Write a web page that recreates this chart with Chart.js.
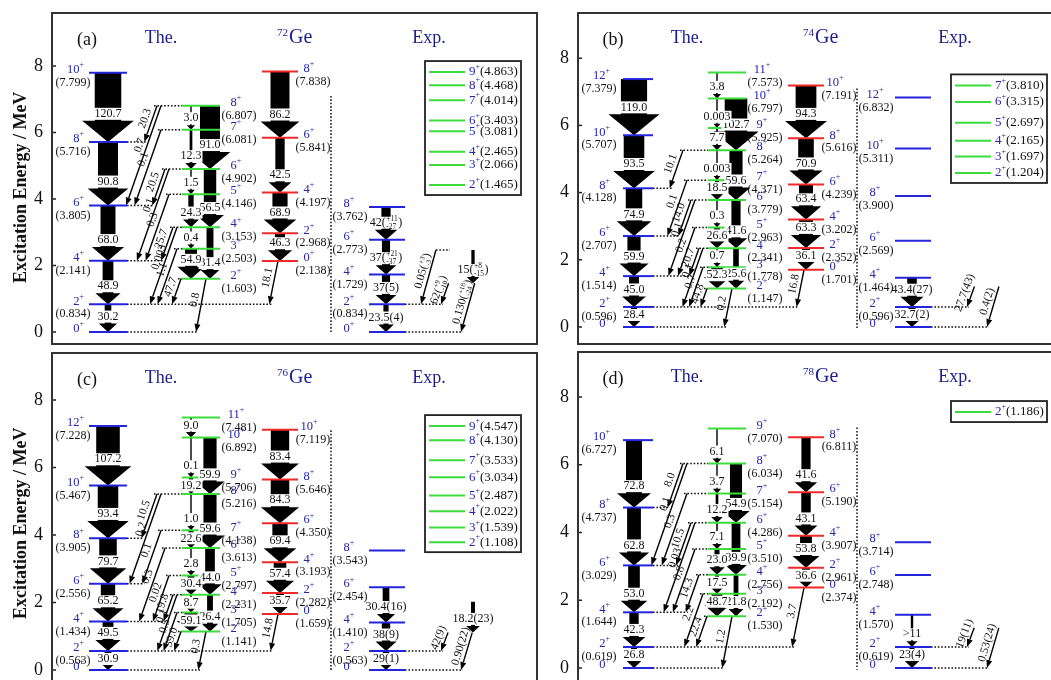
<!DOCTYPE html>
<html>
<head>
<meta charset="utf-8">
<script src="https://cdn.jsdelivr.net/npm/chart.js@4.4.1/dist/chart.umd.min.js"></script>
<style>
  body { margin: 0; background: #fff; }
  #wrap { position: relative; width: 1051px; height: 680px; overflow: hidden; }
  canvas { position: absolute; }
</style>
</head>
<body>
<div id="wrap">
  <canvas id="pa" width="548" height="348" style="left:0;top:0"></canvas>
  <canvas id="pb" width="503" height="348" style="left:548px;top:0"></canvas>
  <canvas id="pc" width="548" height="332" style="left:0;top:348px"></canvas>
  <canvas id="pd" width="503" height="332" style="left:548px;top:348px"></canvas>
</div>
<script>
const yTicks = [0, 2, 4, 6, 8];
const panelTags = ['(a)', '(b)', '(c)', '(d)'];
const massNumbers = ['72', '74', '76', '78'];
const axisTitle = 'Excitation Energy / MeV';

// 72Ge  (theory: ground band, gamma band, second 0+ band; experiment)
const ge72GsbSpin = [0, 2, 4, 6, 8, 10];
const ge72GsbE = [0, 0.834, 2.141, 3.805, 5.716, 7.799];
const ge72GsbBE2 = ['30.2', '48.9', '68.0', '90.8', '120.7'];
const ge72GamSpin = [2, 3, 4, 5, 6, 7, 8];
const ge72GamE = [1.603, 2.503, 3.153, 4.146, 4.902, 6.081, 6.807];
const ge72GamD1 = ['54.9', '0.4', '24.3', '1.5', '12.3', '3.0'];
const ge72GamD2 = ['31.4', '56.5', '91.0'];
const ge72BetSpin = [0, 2, 4, 6, 8];
const ge72BetE = [2.138, 2.968, 4.197, 5.841, 7.838];
const ge72BetBE2 = ['46.3', '68.9', '42.5', '86.2'];
const ge72BetOut = '18.1';
const ge72Links = [[8, 8, '20.3'], [8, 6, '0.7'], [7, 6, '0.1'], [6, 6, '20.5'], [6, 4, '0.1'], [5, 4, '0.3'],
  [4, 4, '25.7'], [4, 2, '0.003'], [3, 2, '1.1'], [2, 2, '47.7'], [2, 0, '0.8']];
const ge72ExpSpin = [0, 2, 4, 6, 8];
const ge72ExpE = [0, 0.834, 1.729, 2.773, 3.762];
const ge72ExpBE2 = ['23.5(4)', '37(5)', '37(+21|-37)', '42(+11|-27)'];
const ge72ExpGamSpin = [2, 3, 4, 5, 6, 7, 8, 9];
const ge72ExpGamE = [1.465, 2.066, 2.465, 3.081, 3.403, 4.014, 4.468, 4.863];
const ge72ExpGamBE2 = [[4, 2, '15(+8|-15)']];
const ge72ExpLinks = [[4, 2, '0.05(+3|-3)'], [2, 2, '62(+9|-10)'], [2, 0, '0.130(+18|-24)']];

// 74Ge
const ge74GsbSpin = [0, 2, 4, 6, 8, 10, 12];
const ge74GsbE = [0, 0.596, 1.514, 2.707, 4.128, 5.707, 7.379];
const ge74GsbBE2 = ['28.4', '45.0', '59.9', '74.9', '93.5', '119.0'];
const ge74GamSpin = [2, 3, 4, 5, 6, 7, 8, 9, 10, 11];
const ge74GamE = [1.147, 1.778, 2.341, 2.963, 3.779, 4.371, 5.264, 5.925, 6.797, 7.573];
const ge74GamD1 = ['52.3', '0.7', '26.6', '0.3', '18.5', '0.003', '7.7', '0.003', '3.8'];
const ge74GamD2 = ['25.6', '41.6', '59.6', '102.7'];
const ge74BetSpin = [0, 2, 4, 6, 8, 10];
const ge74BetE = [1.701, 2.352, 3.202, 4.239, 5.616, 7.191];
const ge74BetBE2 = ['36.1', '63.3', '63.4', '70.9', '94.3'];
const ge74BetOut = '16.8';
const ge74Links = [[8, 8, '10.1'], [7, 6, '0.1'], [6, 6, '14.0'], [6, 4, '0.1'], [5, 4, '0.2'], [4, 4, '20.7'],
  [4, 2, '0.1'], [3, 2, '0.7'], [2, 2, '44.8'], [2, 0, '0.2']];
const ge74ExpSpin = [0, 2, 4, 6, 8, 10, 12];
const ge74ExpE = [0, 0.596, 1.464, 2.569, 3.900, 5.311, 6.832];
const ge74ExpBE2 = ['32.7(2)', '43.4(27)', null, null, null, null];
const ge74ExpGamSpin = [2, 3, 4, 5, 6, 7];
const ge74ExpGamE = [1.204, 1.697, 2.165, 2.697, 3.315, 3.810];
const ge74ExpGamBE2 = [];
const ge74ExpLinks = [[2, 2, '27.7(43)'], [2, 0, '0.4(2)']];

// 76Ge
const ge76GsbSpin = [0, 2, 4, 6, 8, 10, 12];
const ge76GsbE = [0, 0.563, 1.434, 2.556, 3.905, 5.467, 7.228];
const ge76GsbBE2 = ['30.9', '49.5', '65.2', '79.7', '93.4', '107.2'];
const ge76GamSpin = [2, 3, 4, 5, 6, 7, 8, 9, 10, 11];
const ge76GamE = [1.141, 1.705, 2.231, 2.797, 3.613, 4.138, 5.216, 5.706, 6.892, 7.481];
const ge76GamD1 = ['59.1', '8.7', '30.4', '2.8', '22.6', '1.0', '19.2', '0.1', '9.0'];
const ge76GamD2 = ['26.4', '44.0', '59.6', '59.9'];
const ge76BetSpin = [0, 2, 4, 6, 8, 10];
const ge76BetE = [1.659, 2.282, 3.193, 4.350, 5.646, 7.119];
const ge76BetBE2 = ['35.7', '57.4', '69.4', '84.3', '83.4'];
const ge76BetOut = '14.8';
const ge76Links = [[8, 8, '10.5'], [8, 6, '0.2'], [7, 6, '0.1'], [6, 4, '0.3'], [5, 4, '0.02'], [4, 4, '19.8'],
  [4, 2, '0.1'], [3, 2, '0.5'], [2, 2, '39.0'], [2, 0, '0.3']];
const ge76ExpSpin = [0, 2, 4, 6, 8];
const ge76ExpE = [0, 0.563, 1.410, 2.454, 3.543];
const ge76ExpBE2 = ['29(1)', '38(9)', '30.4(16)', null];
const ge76ExpGamSpin = [2, 3, 4, 5, 6, 7, 8, 9];
const ge76ExpGamE = [1.108, 1.539, 2.022, 2.487, 3.034, 3.533, 4.130, 4.547];
const ge76ExpGamBE2 = [[4, 2, '18.2(23)']];
const ge76ExpLinks = [[2, 2, '42(9)'], [2, 0, '0.90(22)']];

// 78Ge
const ge78GsbSpin = [0, 2, 4, 6, 8, 10];
const ge78GsbE = [0, 0.619, 1.644, 3.029, 4.737, 6.727];
const ge78GsbBE2 = ['26.8', '42.3', '53.0', '62.8', '72.8'];
const ge78GamSpin = [2, 3, 4, 5, 6, 7, 8, 9];
const ge78GamE = [1.530, 2.192, 2.756, 3.510, 4.286, 5.154, 6.034, 7.070];
const ge78GamD1 = ['48.7', '17.5', '23.0', '7.1', '12.2', '3.7', '6.1'];
const ge78GamD2 = ['21.8', '39.9', '54.9'];
const ge78BetSpin = [0, 2, 4, 6, 8];
const ge78BetE = [2.374, 2.961, 3.907, 5.190, 6.811];
const ge78BetBE2 = ['36.6', '53.8', '43.1', '41.6'];
const ge78BetOut = '3.7';
const ge78Links = [[8, 8, '8.0'], [8, 6, '0.1'], [7, 6, '0.3'], [6, 6, '10.5'], [6, 4, '0.03'], [5, 4, '0.8'],
  [4, 4, '14.3'], [3, 2, '2.2'], [2, 2, '22.4'], [2, 0, '1.2']];
const ge78ExpSpin = [0, 2, 4, 6, 8];
const ge78ExpE = [0, 0.619, 1.570, 2.748, 3.714];
const ge78ExpBE2 = ['23(4)', '>11', null, null];
const ge78ExpGamSpin = [2];
const ge78ExpGamE = [1.186];
const ge78ExpGamBE2 = [];
const ge78ExpLinks = [[2, 2, '19(11)'], [2, 0, '0.53(24)']];

// column layout, px from the left edge of each frame
const L = {
  gsbR: 76, gsbA: 57, gsbSpin: 33, gsbEn: 22,
  gamL: 131, gamR: 169, gamA1: 140, gamA2: 159, gamSpin: 185, gamEn: 188,
  betL: 211, betR: 247, betA: 229, betSpin: 258, betEn: 262,
  sep: 280, sepTop: 7.1,
  expL: 318, expR: 354, expA: 335, expSpin: 298, expEn: 299,
  tag: 36, the: 110, iso: 226, expT: 378, legL: 374, legW: 96
};
const C = { blue: '#2424dc', green: '#3cdc3c', red: '#ee2a2a', spin: '#2525a8', navy: '#1d1d8c', ink: '#111' };
const SERIF = '"Liberation Serif", "Times New Roman", serif';

const panelBoxes = [
  { id: 'pa', pad: { left: 51, top: 12, right: 10, bottom: 3 }, yMin: -0.391, yMax: 9.624, yTitle: true, legShift: 2.955, gsbL: 38 },
  { id: 'pb', pad: { left: 29, top: 12, right: 0, bottom: 3 }, yMin: -0.536, yMax: 9.375, yTitle: false, legShift: 3.38, gsbL: 46, openR: true },
  { id: 'pc', pad: { left: 51, top: 4, right: 10, bottom: 0 }, yMin: -0.296, yMax: 9.422, yTitle: true, legShift: 2.68, gsbL: 38, openB: true },
  { id: 'pd', pad: { left: 29, top: 3, right: 0, bottom: 0 }, yMin: -0.354, yMax: 9.358, yTitle: false, legShift: 6.37, gsbL: 46, openR: true, openB: true }
];

const panelData = [
  { gsbSpin: ge72GsbSpin, gsbE: ge72GsbE, gsbBE2: ge72GsbBE2, gamSpin: ge72GamSpin, gamE: ge72GamE, gamD1: ge72GamD1, gamD2: ge72GamD2,
    betSpin: ge72BetSpin, betE: ge72BetE, betBE2: ge72BetBE2, betOut: ge72BetOut, links: ge72Links,
    expSpin: ge72ExpSpin, expE: ge72ExpE, expBE2: ge72ExpBE2, expGamSpin: ge72ExpGamSpin, expGamE: ge72ExpGamE,
    expGamBE2: ge72ExpGamBE2, expLinks: ge72ExpLinks },
  { gsbSpin: ge74GsbSpin, gsbE: ge74GsbE, gsbBE2: ge74GsbBE2, gamSpin: ge74GamSpin, gamE: ge74GamE, gamD1: ge74GamD1, gamD2: ge74GamD2,
    betSpin: ge74BetSpin, betE: ge74BetE, betBE2: ge74BetBE2, betOut: ge74BetOut, links: ge74Links,
    expSpin: ge74ExpSpin, expE: ge74ExpE, expBE2: ge74ExpBE2, expGamSpin: ge74ExpGamSpin, expGamE: ge74ExpGamE,
    expGamBE2: ge74ExpGamBE2, expLinks: ge74ExpLinks },
  { gsbSpin: ge76GsbSpin, gsbE: ge76GsbE, gsbBE2: ge76GsbBE2, gamSpin: ge76GamSpin, gamE: ge76GamE, gamD1: ge76GamD1, gamD2: ge76GamD2,
    betSpin: ge76BetSpin, betE: ge76BetE, betBE2: ge76BetBE2, betOut: ge76BetOut, links: ge76Links,
    expSpin: ge76ExpSpin, expE: ge76ExpE, expBE2: ge76ExpBE2, expGamSpin: ge76ExpGamSpin, expGamE: ge76ExpGamE,
    expGamBE2: ge76ExpGamBE2, expLinks: ge76ExpLinks },
  { gsbSpin: ge78GsbSpin, gsbE: ge78GsbE, gsbBE2: ge78GsbBE2, gamSpin: ge78GamSpin, gamE: ge78GamE, gamD1: ge78GamD1, gamD2: ge78GamD2,
    betSpin: ge78BetSpin, betE: ge78BetE, betBE2: ge78BetBE2, betOut: ge78BetOut, links: ge78Links,
    expSpin: ge78ExpSpin, expE: ge78ExpE, expBE2: ge78ExpBE2, expGamSpin: ge78ExpGamSpin, expGamE: ge78ExpGamE,
    expGamBE2: ge78ExpGamBE2, expLinks: ge78ExpLinks }
];

const geo = {};

function num(label) {
  return parseFloat(String(label).replace(/^[^0-9.]*/, '')) || 0;
}

// work out arrows and dotted guides in data units (x: px from frame, y: MeV)
function buildScheme(d, ppm) {
  const dots = [], fat = [], thin = [];
  const gE = s => d.gsbE[d.gsbSpin.indexOf(s)];
  const yE = s => d.gamE[d.gamSpin.indexOf(s)];

  d.gsbBE2.forEach((b, i) => fat.push({ x: L.gsbA, from: d.gsbE[i + 1], to: d.gsbE[i], label: b }));
  d.gamD2.forEach((b, j) => fat.push({ x: L.gamA2, from: yE(4 + 2 * j), to: yE(2 + 2 * j), label: b }));
  d.gamD1.forEach((b, j) => fat.push({ x: L.gamA1, from: yE(3 + j), to: yE(2 + j), label: b }));
  d.betBE2.forEach((b, i) => fat.push({ x: L.betA, from: d.betE[i + 1], to: d.betE[i], label: b }));
  d.expBE2.forEach((b, i) => { if (b) fat.push({ x: L.expA, from: d.expE[i + 1], to: d.expE[i], label: b }); });

  // gamma band -> ground band
  const srcOrder = [];
  d.links.forEach(l => { if (!srcOrder.includes(l[0])) srcOrder.push(l[0]); });
  const used = {}, tgtReach = {}, srcReach = {};
  d.links.forEach(([s, t, b]) => {
    const y1 = yE(s), y2 = gE(t), dy = (y1 - y2) * ppm;
    let x1, x2;
    if (s === 2 && t === 0) {
      x1 = L.gamA2 - 4; x2 = x1 - 0.15 * dy - 2;
    } else {
      used[s] = (used[s] || 0) + 1;
      x1 = L.gamL - 25 + 4 * srcOrder.indexOf(s) + 4 * (used[s] - 1);
      x2 = x1 - 0.35 * dy;
      srcReach[s] = Math.min(srcReach[s] ?? Infinity, x1);
    }
    tgtReach[t] = Math.max(tgtReach[t] ?? -Infinity, x2);
    thin.push({ x1, y1, x2, y2, label: b });
  });
  // second 0+ -> 2+ ground
  {
    const y1 = d.betE[0], y2 = gE(2), x1 = L.betA - 2, x2 = x1 - 0.2 * (y1 - y2) * ppm;
    thin.push({ x1, y1, x2, y2, label: d.betOut });
    tgtReach[2] = Math.max(tgtReach[2] ?? -Infinity, x2);
  }
  Object.keys(tgtReach).forEach(t => {
    if (tgtReach[t] > L.gsbR) dots.push([L.gsbR, gE(+t), tgtReach[t] + 2, gE(+t)]);
  });
  Object.keys(srcReach).forEach(s => {
    if (srcReach[s] < L.gamL) dots.push([srcReach[s] - 3, yE(+s), L.gamL, yE(+s)]);
  });

  // experiment
  const eG = s => d.expGamE[d.expGamSpin.indexOf(s)];
  const eE = s => d.expE[d.expSpin.indexOf(s)];
  const n = d.expLinks.length, eReach = {};
  d.expLinks.forEach(([s, t, b], k) => {
    const y1 = eG(s), y2 = eE(t), dy = (y1 - y2) * ppm;
    const x2 = L.expR + 56 - 20 * (n - 1 - k), x1 = x2 + 0.22 * dy + 3;
    thin.push({ x1, y1, x2, y2, label: b });
    eReach[t] = Math.max(eReach[t] ?? -Infinity, x2);
    if (s > 2) dots.push([x1, y1, x1 + 14, y1]);
  });
  Object.keys(eReach).forEach(t => dots.push([L.expR, eE(+t), eReach[t] + 2, eE(+t)]));
  d.expGamBE2.forEach(([s, t, b]) => fat.push({ x: L.expR + 68, from: eG(s), to: eG(t), label: b }));

  dots.push([L.sep, L.sepTop, L.sep, -0.05]);
  return { dots, fat, thin };
}

function fatArrow(ctx, x, y1, y2, v) {
  const len = y2 - y1;
  const bw = Math.max(1.4, 0.22 * v);
  const hw = 0.37 * v + 7;
  const hl = Math.min(0.38 * hw + 1.5, 0.55 * len);
  ctx.beginPath();
  ctx.moveTo(x - bw / 2, y1);
  ctx.lineTo(x + bw / 2, y1);
  ctx.lineTo(x + bw / 2, y2 - hl);
  ctx.lineTo(x + hw / 2, y2 - hl);
  ctx.lineTo(x, y2);
  ctx.lineTo(x - hw / 2, y2 - hl);
  ctx.lineTo(x - bw / 2, y2 - hl);
  ctx.closePath();
  ctx.fill();
  return hl;
}

function thinArrow(ctx, x1, y1, x2, y2) {
  const a = Math.atan2(y2 - y1, x2 - x1), hl = 8, hw = 3;
  const bx = x2 - Math.cos(a) * hl, by = y2 - Math.sin(a) * hl;
  ctx.lineWidth = 1.4;
  ctx.beginPath(); ctx.moveTo(x1, y1); ctx.lineTo(bx, by); ctx.stroke();
  ctx.beginPath();
  ctx.moveTo(x2, y2);
  ctx.lineTo(bx + Math.sin(a) * hw, by - Math.cos(a) * hw);
  ctx.lineTo(bx - Math.sin(a) * hw, by + Math.cos(a) * hw);
  ctx.closePath(); ctx.fill();
}

function parseRich(s) {
  const m = String(s).match(/^(.*)\((\+[^|]*)\|(-[^)]*)\)$/);
  return m ? { main: m[1] + '(', sup: m[2], sub: m[3] } : { main: String(s) };
}

// text with optional stacked +/- uncertainty, vertically centred on y
function drawRich(ctx, s, x, y, size, align, bg) {
  const r = parseRich(s);
  const big = size + 'px ' + SERIF, small = (size * 0.62).toFixed(1) + 'px ' + SERIF;
  ctx.font = big;
  const wMain = ctx.measureText(r.main).width;
  let wSt = 0, wTail = 0;
  if (r.sup) {
    ctx.font = small;
    wSt = Math.max(ctx.measureText(r.sup).width, ctx.measureText(r.sub).width) + 1;
    ctx.font = big;
    wTail = ctx.measureText(')').width;
  }
  const w = wMain + wSt + wTail;
  let x0 = align === 'center' ? x - w / 2 : align === 'right' ? x - w : x;
  if (bg) {
    ctx.fillStyle = '#fff';
    ctx.fillRect(x0 - 1, y - size * 0.5, w + 2, size);
  }
  ctx.fillStyle = C.ink;
  ctx.textAlign = 'left';
  ctx.textBaseline = 'middle';
  ctx.font = big;
  ctx.fillText(r.main, x0, y);
  if (r.sup) {
    ctx.font = small;
    ctx.fillText(r.sup, x0 + wMain + 0.5, y - size * 0.3);
    ctx.fillText(r.sub, x0 + wMain + 0.5, y + size * 0.32);
    ctx.font = big;
    ctx.fillText(')', x0 + wMain + wSt, y);
  }
  return w;
}

function drawSpin(ctx, spin, x, y, align, size) {
  const a = String(spin), f = size + 'px ' + SERIF, fs = Math.round(size * 0.65) + 'px ' + SERIF;
  ctx.font = f;
  const w1 = ctx.measureText(a).width;
  ctx.font = fs;
  const w2 = ctx.measureText('+').width;
  const w = w1 + w2;
  const x0 = align === 'center' ? x - w / 2 : align === 'right' ? x - w : x;
  ctx.fillStyle = C.spin;
  ctx.textAlign = 'left';
  ctx.textBaseline = 'middle';
  ctx.font = f;
  ctx.fillText(a, x0, y);
  ctx.font = fs;
  ctx.fillText('+', x0 + w1, y - size * 0.38);
  return w;
}

const schemePlugin = {
  id: 'scheme',
  beforeDatasetsDraw(chart) {
    const g = geo[chart.canvas.id];
    const ctx = chart.ctx;
    const X = v => chart.scales.x.getPixelForValue(v), Y = v => chart.scales.y.getPixelForValue(v);
    ctx.save();
    ctx.fillStyle = '#000';
    ctx.strokeStyle = '#000';
    g.fat.forEach(f => { f.hl = fatArrow(ctx, X(f.x), Y(f.from), Y(f.to), num(f.label)); });
    g.thin.forEach(t => thinArrow(ctx, X(t.x1), Y(t.y1), X(t.x2), Y(t.y2)));
    ctx.restore();
  },
  afterDatasetsDraw(chart) {
    const g = geo[chart.canvas.id], d = g.d, box = g.box;
    const ctx = chart.ctx, a = chart.chartArea;
    const X = v => chart.scales.x.getPixelForValue(v), Y = v => chart.scales.y.getPixelForValue(v);
    ctx.save();

    // transition strengths
    g.fat.forEach(f => {
      const y1 = Y(f.from), y2 = Y(f.to);
      const ly = Math.max(y1 + 8, y2 - f.hl - 7);
      drawRich(ctx, f.label, X(f.x), ly, 12, 'center', true);
    });
    g.thin.forEach(t => {
      const x1 = X(t.x1), y1 = Y(t.y1), x2 = X(t.x2), y2 = Y(t.y2);
      const ang = Math.atan2(y1 - y2, x1 - x2);
      ctx.save();
      ctx.translate(x1 + (x2 - x1) * 0.42, y1 + (y2 - y1) * 0.42);
      ctx.rotate(ang);
      drawRich(ctx, t.label, 0, -7, 11.5, 'center', false);
      ctx.restore();
    });

    // level labels
    const energy = (E, x, y) => {
      ctx.font = '12px ' + SERIF; ctx.fillStyle = C.ink; ctx.textAlign = 'center'; ctx.textBaseline = 'middle';
      ctx.fillText('(' + E.toFixed(3) + ')', x, y);
    };
    d.gsbSpin.forEach((s, i) => {
      const y = Y(d.gsbE[i]);
      drawSpin(ctx, s, X(L.gsbSpin), y - 3, 'right', 12.5);
      if (d.gsbE[i] > 0) energy(d.gsbE[i], X(L.gsbEn), y + 10);
    });
    d.gamSpin.forEach((s, i) => {
      const y = Y(d.gamE[i]);
      drawSpin(ctx, s, X(L.gamSpin), y - 3, 'center', 12.5);
      energy(d.gamE[i], X(L.gamEn), y + 10);
    });
    d.betSpin.forEach((s, i) => {
      const y = Y(d.betE[i]);
      drawSpin(ctx, s, X(L.betSpin), y - 3, 'center', 12.5);
      energy(d.betE[i], X(L.betEn), y + 10);
    });
    d.expSpin.forEach((s, i) => {
      const y = Y(d.expE[i]);
      drawSpin(ctx, s, X(L.expSpin), y - 3, 'center', 12.5);
      if (d.expE[i] > 0) energy(d.expE[i], X(L.expEn), y + 10);
    });

    // legend of experimental gamma-band levels
    const items = d.expGamSpin.map((s, i) => ({ s, E: d.expGamE[i], y: Y(d.expGamE[i] + box.legShift) }));
    const ys = items.map(it => it.y);
    const lx = X(L.legL), top = Math.min(...ys) - 11, bot = Math.max(...ys) + 10;
    ctx.fillStyle = '#fff';
    ctx.fillRect(lx, top, L.legW, bot - top);
    ctx.strokeStyle = '#222'; ctx.lineWidth = 1.8;
    ctx.strokeRect(lx, top, L.legW, bot - top);
    items.forEach(it => {
      ctx.strokeStyle = C.green; ctx.lineWidth = 2;
      ctx.beginPath(); ctx.moveTo(lx + 4, it.y); ctx.lineTo(lx + 40, it.y); ctx.stroke();
      const w = drawSpin(ctx, it.s, lx + 44, it.y, 'left', 13);
      ctx.font = '13px ' + SERIF; ctx.fillStyle = C.ink; ctx.textAlign = 'left'; ctx.textBaseline = 'middle';
      ctx.fillText('(' + it.E.toFixed(3) + ')', lx + 44 + w, it.y);
    });

    // titles
    const ty = a.top + 26;
    ctx.textBaseline = 'middle';
    ctx.font = '18px ' + SERIF; ctx.fillStyle = C.ink; ctx.textAlign = 'center';
    ctx.fillText(panelTags[g.idx], X(L.tag), ty + 2);
    ctx.fillStyle = C.navy;
    ctx.fillText('The.', X(L.the), ty);
    ctx.fillText('Exp.', X(L.expT), ty);
    ctx.textAlign = 'left';
    ctx.font = '11px ' + SERIF;
    const wm = ctx.measureText(massNumbers[g.idx]).width;
    ctx.fillText(massNumbers[g.idx], X(L.iso), ty - 5);
    ctx.font = '20px ' + SERIF;
    ctx.fillText('Ge', X(L.iso) + wm + 1, ty);

    // axis: inward ticks and labels
    ctx.strokeStyle = '#222'; ctx.lineWidth = 1.5;
    ctx.fillStyle = C.ink; ctx.font = '18px ' + SERIF; ctx.textAlign = 'right'; ctx.textBaseline = 'middle';
    yTicks.forEach(t => {
      const y = Y(t);
      ctx.beginPath(); ctx.moveTo(a.left, y); ctx.lineTo(a.left + 5, y); ctx.stroke();
      ctx.fillText(String(t), a.left - 8, y);
    });
    if (box.yTitle) {
      ctx.save();
      ctx.translate(a.left - 30, Y(4.35));
      ctx.rotate(-Math.PI / 2);
      ctx.font = 'bold 18px ' + SERIF; ctx.textAlign = 'center';
      ctx.fillText(axisTitle, 0, 0);
      ctx.restore();
    }

    // frame
    ctx.strokeStyle = '#333'; ctx.lineWidth = 2;
    ctx.strokeRect(a.left + 1, a.top + 1, a.right - a.left - 2 + (box.openR ? 20 : 0), a.bottom - a.top - 2 + (box.openB ? 20 : 0));
    ctx.restore();
  }
};

const seg = (x1, y1, x2, y2, color, width, dash) => ({
  data: [{ x: x1, y: y1 }, { x: x2, y: y2 }],
  showLine: true, borderColor: color, borderWidth: width, borderDash: dash || [],
  pointRadius: 0, fill: false
});

panelBoxes.forEach((box, idx) => {
  const d = panelData[idx];
  const canvas = document.getElementById(box.id);
  const areaW = canvas.width - box.pad.left - box.pad.right;
  const areaH = canvas.height - box.pad.top - box.pad.bottom;
  const ppm = areaH / (box.yMax - box.yMin);
  const s = buildScheme(d, ppm);
  geo[box.id] = Object.assign(s, { d, box, idx });

  const datasets = [];
  s.dots.forEach(p => datasets.push(seg(p[0], p[1], p[2], p[3], '#111', 1.5, [1.6, 1.8])));
  d.gsbE.forEach(E => datasets.push(seg(box.gsbL, E, L.gsbR, E, C.blue, 2)));
  d.gamE.forEach(E => datasets.push(seg(L.gamL, E, L.gamR, E, C.green, 2)));
  d.betE.forEach(E => datasets.push(seg(L.betL, E, L.betR, E, C.red, 2)));
  d.expE.forEach(E => datasets.push(seg(L.expL, E, L.expR, E, C.blue, 2)));

  new Chart(canvas, {
    type: 'scatter',
    data: { datasets },
    options: {
      responsive: false,
      animation: false,
      events: [],
      layout: { padding: box.pad },
      plugins: { legend: { display: false }, tooltip: { enabled: false } },
      scales: {
        x: { type: 'linear', display: false, min: 0, max: areaW },
        y: { type: 'linear', display: false, min: box.yMin, max: box.yMax }
      }
    },
    plugins: [schemePlugin]
  });
});
</script>
</body>
</html>
